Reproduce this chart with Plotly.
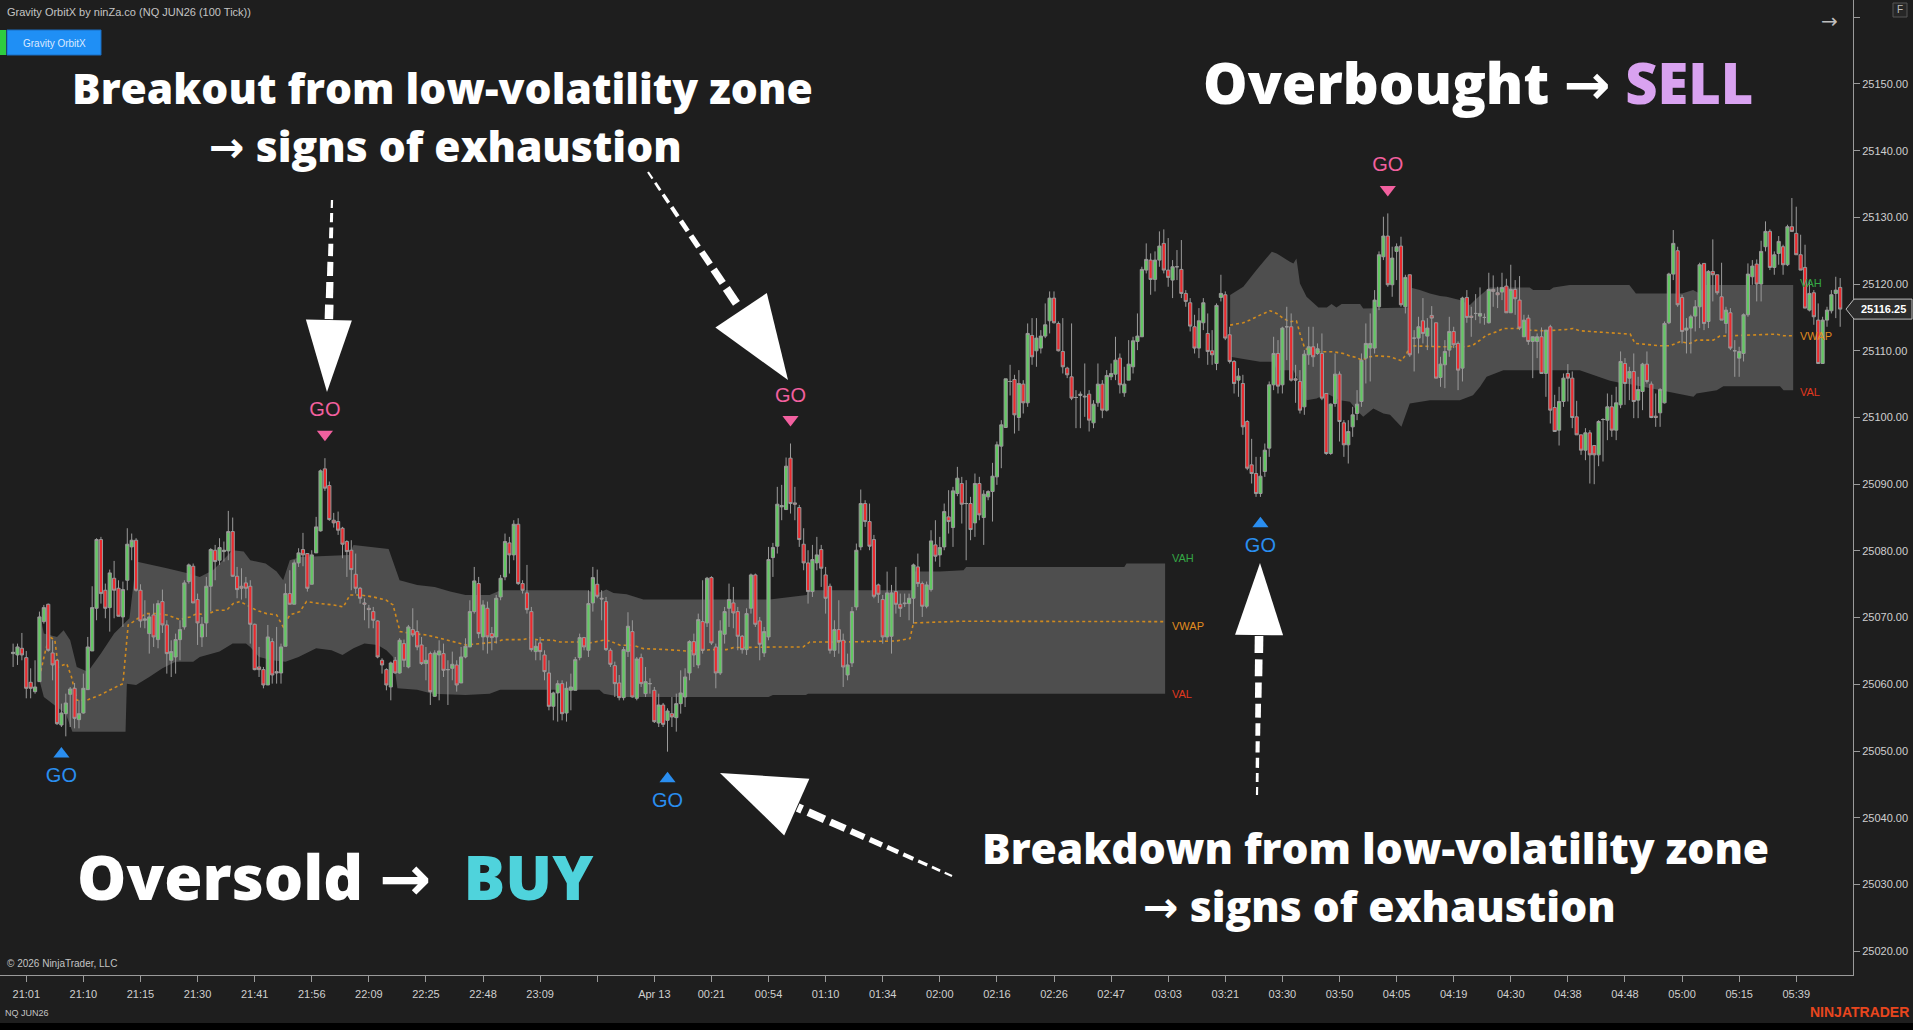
import math
import plotly.graph_objects as go

W, H = 1913, 1030

# ---------------- candle data (bar index = position) ----------------
opens = [
 25064.6, 25064.4, 25065.4, 25064.0, 25060.3, 25058.9, 25060.4, 25069.4, 25072.0, 25064.7,
 25063.6, 25053.9, 25055.6, 25058.5, 25059.4, 25054.7, 25055.7, 25059.2, 25065.0, 25071.4,
 25081.7, 25074.1, 25071.5, 25075.9, 25074.4, 25070.1, 25075.6, 25080.6, 25081.6, 25074.1,
 25069.6, 25067.6, 25070.4, 25066.7, 25072.4, 25068.9, 25063.6, 25064.1, 25066.7, 25068.6,
 25075.4, 25077.7, 25072.7, 25067.1, 25069.2, 25074.7, 25080.1, 25078.6, 25079.9, 25080.0,
 25082.9, 25076.2, 25074.7, 25075.2, 25074.7, 25069.0, 25062.6, 25062.2, 25059.9, 25066.4,
 25061.9, 25061.7, 25065.7, 25073.6, 25072.0, 25078.2, 25080.2, 25079.6, 25075.0, 25079.7,
 25083.0, 25092.3, 25089.8, 25084.6, 25084.4, 25083.4, 25081.4, 25080.1, 25076.5, 25074.4,
 25072.2, 25071.4, 25070.9, 25069.5, 25063.6, 25062.2, 25059.6, 25063.6, 25061.7, 25066.1,
 25062.6, 25068.2, 25067.9, 25065.9, 25063.1, 25064.6, 25058.2, 25064.4, 25064.6, 25062.2,
 25062.4, 25062.9, 25060.2, 25064.1, 25065.6, 25070.9, 25075.1,
 25067.1, 25071.4, 25067.6, 25067.1, 25073.1, 25076.1, 25081.2, 25079.4, 25084.0, 25075.1,
 25073.7, 25070.9, 25064.9, 25066.2, 25064.4, 25061.7, 25056.7, 25058.7, 25060.1, 25055.7,
 25059.1, 25059.1, 25064.0, 25067.0, 25065.1, 25072.2, 25075.0, 25072.9, 25072.4, 25065.1,
 25062.8, 25060.2, 25058.0, 25064.9, 25067.9, 25057.9, 25064.0, 25058.6, 25060.1, 25059.1,
 25054.2, 25056.9, 25054.6, 25055.6, 25055.0, 25057.1, 25058.1, 25061.7, 25066.4, 25062.9,
 25069.4, 25069.2, 25076.0, 25065.6, 25061.7, 25067.5, 25071.4, 25072.2, 25070.9, 25067.2,
 25065.2, 25071.4, 25076.4, 25069.5, 25064.7, 25067.1, 25079.0, 25080.7, 25086.6, 25086.2,
 25093.9, 25087.2, 25086.5, 25081.0, 25078.2, 25073.9, 25078.2, 25080.2, 25076.4, 25074.7,
 25065.1, 25068.2, 25066.6, 25061.4, 25063.2, 25071.6, 25080.6, 25087.1, 25084.4, 25081.7,
 25074.9, 25072.7, 25067.1, 25067.2, 25073.9, 25072.0, 25072.2, 25072.1, 25072.9, 25077.6,
 25075.1, 25071.7, 25074.2, 25080.9, 25079.4, 25080.6, 25085.1, 25083.5, 25088.6,
 25090.1, 25087.1, 25087.1, 25084.2, 25090.1, 25085.0, 25088.1, 25088.9, 25091.1, 25095.7,
 25098.5, 25105.4, 25105.7, 25100.0, 25105.0, 25102.2, 25112.3, 25110.0, 25110.4, 25112.2,
 25114.5, 25117.9, 25114.1, 25109.9, 25107.4, 25106.1, 25103.0, 25103.3, 25103.2, 25103.5,
 25099.2, 25102.2, 25105.0, 25101.1, 25106.1, 25106.5, 25108.9, 25103.7, 25105.6, 25107.6,
 25111.4, 25112.1, 25122.1, 25123.6, 25120.7, 25123.6, 25126.1, 25122.1, 25120.6, 25122.6,
 25122.2, 25118.6, 25117.2, 25113.6, 25110.4, 25114.2, 25112.6, 25110.0, 25108.1, 25118.0,
 25118.4, 25112.4, 25108.4, 25105.6, 25105.1, 25099.4, 25092.9, 25091.6, 25088.6, 25091.9,
 25095.4, 25104.9, 25109.6, 25104.9, 25113.6, 25113.6, 25105.8, 25105.4, 25101.6, 25109.4,
 25110.6, 25109.6, 25109.6, 25103.6, 25094.6, 25102.1, 25106.5, 25099.2, 25095.9, 25098.6,
 25100.6, 25102.4, 25108.9, 25110.4, 25110.4, 25116.6, 25124.1, 25127.2, 25119.9, 25124.9,
 25125.7, 25116.6, 25121.4, 25111.9, 25111.9, 25114.5, 25112.2, 25115.3, 25114.2, 25106.0,
 25107.9, 25110.1, 25112.9, 25111.1, 25107.4, 25118.0, 25115.2, 25115.6, 25115.2, 25115.0,
 25114.2, 25119.2, 25118.7, 25118.8, 25119.7, 25115.7, 25119.2, 25117.6, 25112.1, 25114.9,
 25111.4, 25111.4, 25112.1, 25106.6, 25113.6, 25101.5, 25098.1, 25102.4, 25106.6, 25105.9,
 25100.1, 25097.4, 25095.1, 25097.7, 25095.8, 25094.4, 25099.7, 25099.6, 25101.6, 25098.1,
 25101.9, 25108.1, 25105.9, 25106.9, 25102.6, 25103.9, 25108.0, 25105.0, 25100.2, 25100.7,
 25102.2, 25114.2, 25121.5, 25125.0, 25118.0, 25113.1, 25113.4, 25115.2, 25116.6, 25123.1,
 25114.4, 25121.9, 25121.4, 25118.1, 25114.1, 25115.7, 25110.0, 25108.9, 25109.6, 25115.4,
 25121.1, 25123.0, 25120.0, 25125.6, 25127.9, 25122.5, 25124.6, 25125.6, 25122.9, 25128.6,
 25127.6, 25124.4, 25122.5, 25116.1, 25118.7, 25114.6, 25108.1, 25114.6, 25116.0, 25118.6, 25119.5,
]
highs = [
 25066.1, 25066.1, 25067.7, 25065.0, 25062.4, 25063.6, 25070.9, 25071.9, 25072.1, 25066.6,
 25063.6, 25057.1, 25058.6, 25059.6, 25060.2, 25057.6, 25061.6, 25067.1, 25074.7, 25081.9,
 25082.1, 25075.1, 25077.2, 25078.5, 25075.6, 25075.4, 25083.4, 25082.6, 25081.9, 25075.0,
 25072.6, 25070.6, 25072.1, 25072.6, 25074.2, 25069.6, 25066.6, 25067.6, 25069.6, 25075.6,
 25078.1, 25078.1, 25073.6, 25070.1, 25076.1, 25080.4, 25080.9, 25081.9, 25081.4, 25086.0,
 25085.0, 25077.6, 25077.4, 25076.1, 25075.6, 25069.1, 25065.6, 25062.6, 25068.9, 25066.9,
 25068.6, 25066.1, 25075.1, 25077.1, 25078.6, 25080.4, 25082.7, 25079.6, 25080.1, 25085.1,
 25092.2, 25093.9, 25090.4, 25085.7, 25085.9, 25083.6, 25081.6, 25081.6, 25079.6, 25074.6,
 25072.9, 25071.9, 25071.6, 25069.6, 25063.9, 25062.4, 25063.4, 25064.1, 25066.9, 25066.7,
 25068.9, 25071.4, 25069.6, 25067.1, 25065.6, 25064.9, 25065.1, 25066.6, 25066.1, 25063.6,
 25064.9, 25063.6, 25065.6, 25066.9, 25072.6, 25077.6, 25076.1,
 25072.6, 25072.4, 25068.6, 25073.4, 25076.4, 25082.6, 25082.1, 25084.6, 25084.9, 25075.6,
 25077.9, 25071.6, 25066.6, 25067.1, 25065.1, 25063.6, 25058.9, 25060.6, 25060.6, 25060.4,
 25061.6, 25064.1, 25067.6, 25067.1, 25074.1, 25077.6, 25077.2, 25074.1, 25073.1, 25065.4,
 25063.4, 25061.4, 25065.6, 25070.8, 25069.6, 25064.1, 25064.6, 25062.6, 25060.9, 25059.6,
 25058.6, 25057.2, 25056.4, 25058.1, 25058.6, 25062.1, 25062.4, 25066.6, 25067.6, 25070.6,
 25075.6, 25076.1, 25076.2, 25066.1, 25069.6, 25071.6, 25075.1, 25074.6, 25071.6, 25067.4,
 25071.4, 25076.6, 25076.6, 25070.1, 25068.6, 25080.6, 25081.2, 25089.6, 25089.9, 25094.0,
 25096.1, 25089.6, 25086.9, 25083.4, 25080.1, 25080.9, 25082.1, 25080.9, 25077.6, 25075.1,
 25069.6, 25072.6, 25067.6, 25064.6, 25071.6, 25081.1, 25089.2, 25087.6, 25087.1, 25082.4,
 25075.1, 25073.4, 25076.9, 25074.9, 25077.6, 25073.6, 25073.6, 25073.6, 25078.1, 25079.6,
 25075.4, 25075.4, 25083.1, 25084.6, 25082.1, 25087.1, 25089.1, 25089.6, 25092.6,
 25091.1, 25090.6, 25088.1, 25091.6, 25091.1, 25089.1, 25089.1, 25093.2, 25096.4, 25099.6,
 25105.8, 25107.9, 25106.4, 25107.1, 25105.6, 25114.1, 25114.9, 25114.9, 25113.1, 25117.1,
 25118.9, 25118.9, 25114.4, 25114.9, 25107.6, 25114.1, 25104.1, 25103.9, 25108.1, 25104.1,
 25102.6, 25108.1, 25105.6, 25107.1, 25108.1, 25112.1, 25109.6, 25107.6, 25111.6, 25112.1,
 25115.6, 25122.6, 25126.1, 25124.6, 25124.9, 25127.9, 25128.2, 25126.9, 25123.6, 25125.1,
 25126.6, 25119.1, 25117.9, 25115.4, 25116.4, 25117.9, 25115.6, 25113.1, 25117.1, 25121.4,
 25118.9, 25113.6, 25108.6, 25107.4, 25106.4, 25099.6, 25096.8, 25094.1, 25094.1, 25096.1,
 25105.4, 25112.1, 25111.6, 25113.6, 25116.6, 25115.6, 25107.9, 25107.1, 25110.1, 25113.6,
 25113.6, 25111.1, 25112.6, 25103.6, 25102.1, 25109.6, 25106.9, 25099.6, 25099.6, 25101.6,
 25104.1, 25109.6, 25114.1, 25115.6, 25119.1, 25124.9, 25130.1, 25130.6, 25125.6, 25126.1,
 25127.1, 25121.4, 25121.4, 25113.1, 25115.1, 25117.9, 25114.9, 25116.7, 25114.2, 25109.1,
 25111.6, 25115.1, 25113.6, 25111.4, 25118.1, 25119.1, 25116.6, 25118.5, 25119.5, 25115.6,
 25121.7, 25121.3, 25119.6, 25121.7, 25120.8, 25122.9, 25120.6, 25121.2, 25115.4, 25115.4,
 25112.1, 25112.6, 25113.5, 25113.1, 25113.9, 25103.4, 25104.6, 25106.6, 25108.0, 25106.9,
 25102.5, 25097.4, 25098.4, 25098.1, 25095.8, 25099.6, 25099.9, 25103.6, 25103.4, 25104.6,
 25109.9, 25108.9, 25107.6, 25109.6, 25106.1, 25108.2, 25109.9, 25105.4, 25103.6, 25104.4,
 25114.4, 25121.7, 25128.1, 25125.6, 25118.4, 25114.9, 25115.4, 25117.6, 25123.2, 25123.1,
 25122.1, 25126.7, 25121.4, 25123.2, 25116.6, 25116.4, 25111.6, 25110.6, 25115.6, 25123.1,
 25123.6, 25123.7, 25126.5, 25129.4, 25128.2, 25124.9, 25127.2, 25125.9, 25128.9, 25132.9,
 25131.6, 25127.4, 25125.9, 25120.6, 25119.1, 25117.1, 25115.1, 25116.6, 25119.1, 25121.1, 25120.9,
]
lows = [
 25062.6, 25062.9, 25063.6, 25057.9, 25057.9, 25058.6, 25060.4, 25069.1, 25064.9, 25060.6,
 25053.9, 25053.6, 25052.2, 25053.6, 25053.4, 25053.4, 25055.6, 25059.2, 25065.0, 25069.6,
 25072.1, 25069.9, 25067.9, 25069.9, 25070.2, 25068.6, 25074.1, 25078.6, 25073.9, 25068.5,
 25068.4, 25064.6, 25065.6, 25065.4, 25067.7, 25061.6, 25061.1, 25061.6, 25063.6, 25068.2,
 25075.1, 25072.2, 25065.9, 25065.6, 25067.1, 25070.9, 25075.6, 25077.9, 25078.4, 25078.6,
 25076.1, 25072.9, 25072.7, 25072.9, 25066.1, 25062.1, 25061.1, 25059.4, 25059.9, 25060.1,
 25060.1, 25060.1, 25065.7, 25072.0, 25072.0, 25077.6, 25077.7, 25073.9, 25075.0, 25079.7,
 25082.9, 25089.0, 25084.5, 25083.5, 25082.4, 25078.9, 25076.1, 25074.1, 25073.6, 25072.1,
 25069.6, 25068.4, 25068.4, 25063.9, 25061.6, 25059.1, 25057.6, 25061.6, 25061.6, 25062.6,
 25062.4, 25067.1, 25065.1, 25062.9, 25060.6, 25056.9, 25058.1, 25057.6, 25061.1, 25056.9,
 25060.6, 25058.9, 25060.2, 25063.9, 25065.6, 25070.6, 25066.9,
 25065.1, 25064.6, 25065.1, 25066.1, 25072.6, 25075.6, 25076.6, 25078.6, 25074.9, 25073.6,
 25070.6, 25064.9, 25063.6, 25063.6, 25060.6, 25056.1, 25054.6, 25054.4, 25054.6, 25054.4,
 25056.1, 25059.1, 25063.6, 25065.1, 25064.1, 25070.9, 25072.9, 25069.6, 25065.0, 25062.6,
 25058.1, 25057.6, 25057.6, 25064.1, 25058.0, 25057.6, 25059.6, 25058.1, 25058.6, 25054.2,
 25053.6, 25053.6, 25049.9, 25053.6, 25052.9, 25055.6, 25056.6, 25060.6, 25062.6, 25062.4,
 25064.6, 25068.6, 25065.9, 25059.4, 25061.4, 25066.1, 25068.6, 25068.4, 25065.1, 25064.6,
 25064.4, 25070.6, 25068.6, 25063.6, 25064.1, 25066.6, 25076.1, 25079.6, 25084.6, 25086.2,
 25085.6, 25084.6, 25080.6, 25077.1, 25072.1, 25073.1, 25077.1, 25074.6, 25070.6, 25064.6,
 25064.1, 25064.6, 25059.6, 25060.6, 25062.6, 25071.1, 25080.1, 25083.6, 25080.1, 25072.9,
 25072.2, 25066.1, 25066.6, 25064.6, 25070.6, 25070.1, 25071.6, 25069.6, 25069.1, 25074.6,
 25070.1, 25071.4, 25073.9, 25078.4, 25077.6, 25080.1, 25082.6, 25080.6, 25088.2,
 25084.1, 25078.6, 25081.6, 25082.1, 25084.6, 25080.9, 25087.6, 25084.4, 25089.9, 25092.4,
 25098.5, 25103.3, 25097.6, 25098.0, 25100.6, 25101.6, 25107.9, 25107.6, 25109.6, 25111.9,
 25112.6, 25114.1, 25109.9, 25106.6, 25105.9, 25102.6, 25098.4, 25098.4, 25100.1, 25097.9,
 25098.4, 25101.6, 25099.9, 25100.9, 25105.6, 25105.6, 25103.6, 25103.1, 25105.6, 25106.6,
 25110.1, 25112.1, 25121.6, 25118.4, 25118.9, 25122.6, 25121.6, 25119.6, 25117.9, 25120.6,
 25117.9, 25116.6, 25112.9, 25109.6, 25108.9, 25113.1, 25107.9, 25107.9, 25107.1, 25117.4,
 25111.6, 25108.1, 25103.6, 25103.1, 25097.4, 25092.1, 25090.1, 25088.1, 25088.1, 25091.1,
 25094.1, 25104.1, 25103.6, 25103.6, 25108.6, 25105.4, 25102.2, 25100.6, 25100.4, 25107.9,
 25107.6, 25109.4, 25102.6, 25094.4, 25094.4, 25101.6, 25096.4, 25094.1, 25093.1, 25097.1,
 25099.6, 25101.6, 25105.1, 25105.4, 25109.6, 25116.1, 25123.6, 25119.6, 25118.1, 25120.6,
 25116.6, 25115.6, 25109.1, 25106.9, 25109.6, 25111.1, 25110.1, 25110.6, 25105.9, 25104.6,
 25104.4, 25109.1, 25110.4, 25104.1, 25105.4, 25114.2, 25112.1, 25114.6, 25114.1, 25113.9,
 25114.1, 25116.6, 25116.4, 25117.6, 25115.7, 25115.7, 25115.4, 25113.1, 25112.1, 25110.9,
 25105.9, 25108.9, 25106.6, 25103.1, 25099.1, 25097.9, 25095.8, 25101.6, 25102.4, 25098.4,
 25097.4, 25094.4, 25093.6, 25090.1, 25090.0, 25092.7, 25093.4, 25096.6, 25097.1, 25096.6,
 25101.4, 25101.9, 25102.6, 25099.9, 25099.9, 25101.1, 25105.1, 25099.9, 25098.6, 25098.6,
 25102.1, 25114.0, 25120.6, 25116.6, 25111.1, 25109.6, 25109.6, 25112.9, 25113.4, 25113.1,
 25113.4, 25117.4, 25118.4, 25114.6, 25112.6, 25110.1, 25106.1, 25106.1, 25108.4, 25115.1,
 25119.9, 25117.4, 25117.4, 25124.9, 25122.1, 25121.4, 25122.9, 25121.4, 25122.7, 25127.9,
 25124.4, 25122.1, 25116.4, 25115.9, 25113.9, 25108.1, 25108.1, 25113.6, 25115.6, 25114.9, 25113.6,
]
closes = [
 25064.8, 25065.6, 25064.4, 25059.4, 25059.4, 25059.6, 25070.1, 25071.5, 25065.1, 25062.9,
 25054.1, 25055.7, 25057.2, 25059.3, 25054.9, 25055.6, 25059.4, 25065.6, 25071.5, 25081.7,
 25073.6, 25071.4, 25076.7, 25074.1, 25070.2, 25074.2, 25081.0, 25081.6, 25074.1, 25069.5,
 25069.8, 25070.1, 25067.1, 25072.1, 25068.9, 25064.6, 25064.9, 25066.7, 25068.2, 25075.2,
 25077.9, 25072.2, 25069.2, 25069.0, 25074.7, 25080.2, 25078.4, 25080.5, 25080.1, 25082.9,
 25076.2, 25074.2, 25074.4, 25074.4, 25069.0, 25062.2, 25062.2, 25059.9, 25067.1, 25061.4,
 25061.7, 25065.6, 25073.6, 25072.0, 25078.2, 25079.7, 25079.4, 25074.4, 25079.4, 25083.6,
 25092.0, 25089.4, 25084.7, 25084.2, 25083.1, 25081.0, 25079.9, 25077.2, 25074.4, 25072.9,
 25072.0, 25071.2, 25069.6, 25064.1, 25062.9, 25059.9, 25063.2, 25061.7, 25066.6, 25063.6,
 25068.6, 25067.4, 25065.6, 25063.1, 25063.6, 25058.9, 25064.7, 25065.0, 25062.1, 25062.2,
 25063.0, 25059.9, 25064.1, 25065.7, 25070.9, 25075.5, 25067.6,
 25071.9, 25067.1, 25067.0, 25072.9, 25075.9, 25081.4, 25079.4, 25084.0, 25075.1, 25074.1,
 25071.2, 25065.2, 25065.7, 25064.9, 25061.9, 25056.7, 25058.7, 25060.1, 25055.6, 25059.4,
 25059.6, 25063.7, 25067.0, 25065.6, 25072.1, 25076.0, 25073.2, 25072.8, 25065.2, 25063.0,
 25060.1, 25058.0, 25065.2, 25068.7, 25058.1, 25063.8, 25060.1, 25060.4, 25060.1, 25054.4,
 25056.9, 25054.0, 25056.0, 25055.1, 25057.1, 25058.7, 25061.1, 25066.4, 25064.4, 25069.7,
 25065.1, 25075.9, 25066.2, 25061.7, 25068.0, 25070.9, 25072.7, 25070.7, 25067.2, 25065.2,
 25070.6, 25076.4, 25069.0, 25066.0, 25067.9, 25078.7, 25080.5, 25087.0, 25086.8, 25092.7,
 25087.1, 25087.0, 25081.7, 25078.2, 25073.9, 25078.7, 25079.4, 25077.4, 25072.9, 25065.1,
 25068.2, 25066.4, 25062.6, 25062.9, 25070.9, 25080.1, 25087.1, 25084.4, 25080.7, 25073.2,
 25073.5, 25067.1, 25073.7, 25073.7, 25072.0, 25071.4, 25072.1, 25072.9, 25077.9, 25075.1,
 25071.7, 25074.9, 25081.5, 25079.2, 25080.5, 25085.9, 25084.4, 25089.0, 25090.9,
 25087.0, 25087.1, 25083.2, 25090.1, 25085.4, 25088.5, 25088.9, 25091.2, 25095.9, 25098.9,
 25105.8, 25105.4, 25100.4, 25105.1, 25102.2, 25112.6, 25109.1, 25111.9, 25112.2, 25113.9,
 25117.9, 25114.2, 25110.0, 25107.6, 25106.4, 25102.9, 25103.0, 25103.5, 25103.1, 25099.6,
 25102.0, 25105.0, 25101.1, 25106.3, 25106.6, 25108.6, 25104.9, 25105.0, 25108.0, 25111.5,
 25112.2, 25122.2, 25123.7, 25120.7, 25123.6, 25125.7, 25122.1, 25121.0, 25122.6, 25122.6,
 25118.6, 25117.4, 25113.7, 25110.4, 25114.5, 25117.2, 25109.9, 25109.4, 25116.8, 25118.6,
 25111.9, 25108.4, 25105.1, 25106.2, 25098.6, 25092.4, 25091.6, 25088.6, 25091.2, 25095.1,
 25104.9, 25109.6, 25104.7, 25113.4, 25113.6, 25105.6, 25105.6, 25101.1, 25109.5, 25110.6,
 25109.1, 25110.3, 25102.9, 25094.6, 25102.0, 25106.5, 25099.4, 25095.9, 25097.9, 25100.4,
 25102.0, 25108.6, 25111.1, 25111.1, 25117.6, 25124.4, 25127.2, 25119.9, 25123.9, 25125.6,
 25116.9, 25121.0, 25109.4, 25111.9, 25113.6, 25112.6, 25113.4, 25114.9, 25105.9, 25108.0,
 25109.9, 25112.9, 25110.9, 25107.1, 25117.9, 25115.0, 25115.0, 25115.6, 25115.6, 25115.0,
 25119.2, 25118.9, 25118.4, 25119.5, 25115.7, 25119.2, 25117.8, 25113.4, 25114.6, 25111.4,
 25112.1, 25112.1, 25106.6, 25113.1, 25101.1, 25097.9, 25102.4, 25105.9, 25105.9, 25100.0,
 25097.4, 25095.1, 25097.7, 25094.4, 25094.4, 25099.4, 25099.7, 25101.6, 25098.1, 25102.2,
 25108.4, 25105.1, 25106.9, 25102.4, 25104.2, 25108.0, 25105.4, 25100.0, 25100.0, 25104.2,
 25114.1, 25121.5, 25126.1, 25116.9, 25112.9, 25113.4, 25115.1, 25116.6, 25122.9, 25114.1,
 25121.9, 25121.4, 25118.7, 25114.6, 25116.1, 25110.4, 25110.0, 25109.9, 25115.4, 25121.5,
 25122.7, 25120.0, 25124.9, 25127.9, 25122.5, 25124.4, 25126.4, 25122.9, 25128.6, 25127.9,
 25124.4, 25122.1, 25116.4, 25118.6, 25115.1, 25108.1, 25114.6, 25116.1, 25118.4, 25119.1, 25116.25,
]
assert len(opens) == len(highs) == len(lows) == len(closes) == 417, (len(opens), len(highs), len(lows), len(closes))
bar_index = list(range(len(closes)))

# ---------------- value-area bands (bar position, price) ----------------
vah1_x = [6, 7, 10, 11.5, 13, 14.5, 17, 20, 23, 26.5, 28, 35, 40, 42.5, 45.5, 50, 52.5, 54, 57.5, 60,
          61.5, 63, 65.5, 76.5, 77.5, 85.5, 88, 92, 96, 99.5, 103, 108.5, 111, 130.6, 132.9, 135.1, 136.7, 139.7, 143.5, 172.3,
          180.7, 181, 204.9, 205.3, 211, 216.4, 217, 253, 253.5, 262.3]
vah1_y = [25070.9, 25067.6, 25067.1, 25068.1, 25066.6, 25062.6, 25061.9, 25064.6, 25067.6, 25069.9,
          25078.4, 25077.4, 25076.6, 25076.1, 25077.1, 25080.1, 25079.9, 25078.6, 25078.1, 25076.9,
          25075.6, 25078.6, 25079.1, 25079.4, 25080.9, 25080.3, 25075.6, 25074.9, 25074.6, 25073.9,
          25073.4, 25073.4, 25074.1, 25074.1, 25073.6, 25074.2, 25073.7, 25073.5, 25072.7, 25072.7,
          25073.4, 25074.1, 25074.1, 25076.9, 25076.9, 25077.1, 25077.6, 25077.6, 25078.1, 25078.1]
val1_x = [6, 7, 9, 12, 13.5, 25.6, 25.9, 28, 31, 34, 37, 41, 42.5, 47, 50, 53, 54, 56, 59, 62,
          65, 69, 72.5, 75, 77.5, 80, 83, 85, 86.5, 87.5, 92, 95.5, 103, 108.5, 110.9, 133.5, 134.5, 137, 139, 172,
          173, 180.5, 181, 262.3]
val1_y = [25060.6, 25058.1, 25057.1, 25055.6, 25052.9, 25052.9, 25060.1, 25059.9, 25061.1, 25062.4,
          25063.4, 25063.4, 25064.1, 25064.9, 25066.1, 25066.1, 25065.6, 25064.1, 25063.6, 25063.4,
          25064.1, 25065.4, 25065.1, 25064.4, 25065.4, 25066.1, 25065.9, 25065.1, 25064.1, 25059.4,
          25059.2, 25058.6, 25058.4, 25058.6, 25059.2, 25059.2, 25058.6, 25058.3, 25058.1, 25058.1,
          25058.4, 25058.4, 25058.6, 25058.6]
vwap1_x = [6, 7.5, 8.4, 9.5, 10.3, 12.2, 13.3, 14.5, 16.7, 19.8, 22.8, 25, 26.2, 27.4, 28.9, 30.4, 32.7, 35, 38, 40.3,
           41.8, 44, 46.3, 48.6, 50.1, 51.6, 53.2, 55.4, 57.7, 60, 61.5, 63, 65.3, 66.8, 69.9, 72.9, 75.2, 76.7, 79, 82,
           85, 86.5, 88.1, 91.1, 94.1, 97.2, 100.2, 103.2, 106.3, 110, 111.6, 116.2, 117.7, 119.2, 123, 124.5, 129, 131.3, 134.4, 135.9,
           138.2, 141.2, 143.5, 148.8, 153.3, 159.4, 162.4, 164, 174.6, 179.9, 181.4, 189.8, 201.1, 204.2, 205, 215.6, 262.3]
vwap1_y = [25061.1, 25065.4, 25067.1, 25066.6, 25062.6, 25063.1, 25061.1, 25057.6, 25057.6, 25058.4,
           25059.4, 25060.1, 25068.9, 25069.4, 25070.1, 25070.6, 25070.6, 25070.4, 25069.7, 25070.1,
           25070.6, 25070.4, 25071.1, 25071.1, 25072.1, 25072.4, 25071.9, 25071.1, 25070.6, 25070.4,
           25068.6, 25070.4, 25070.9, 25072.4, 25072.1, 25071.9, 25071.6, 25073.4, 25073.4, 25073.1,
           25072.6, 25071.9, 25067.9, 25067.6, 25067.4, 25066.9, 25066.4, 25065.9, 25066.1, 25066.35,
           25066.7, 25066.7, 25067.0, 25066.7, 25066.6, 25066.35, 25066.35, 25066.2, 25066.6, 25066.5,
           25065.85, 25065.85, 25065.35, 25065.2, 25065.0, 25065.2, 25065.2, 25065.5, 25065.6, 25065.6,
           25066.35, 25066.35, 25066.5, 25066.85, 25069.2, 25069.45, 25069.4]

vah2_x = [277.1, 280.1, 283.1, 285.0, 286.6, 287.7, 290.7, 291.5, 292.2, 293, 294.5, 297.2, 299.1, 300.2, 301.3, 302.5,
          306.7, 307.4, 318, 318.1, 320.3, 322.6, 324.9, 326.4, 329.4, 331.7, 333.2, 335.5, 336.2, 345.3, 346.1, 349.9,
          350.7, 354.4, 368, 369.5, 380, 382.5, 384, 385, 405.3]
vah2_y = [25118.35, 25119.6, 25122.1, 25123.6, 25124.85, 25124.6, 25123.35, 25123.1, 25123.85, 25120.1,
          25118.1, 25116.5, 25116.5, 25117.0, 25116.5, 25117.0, 25117.0, 25116.35, 25116.5, 25119.5,
          25119.1, 25118.6, 25118.2, 25118.1, 25117.6, 25116.85, 25117.85, 25119.1, 25119.5, 25119.5,
          25119.1, 25119.1, 25119.5, 25119.85, 25119.85, 25118.6, 25118.6, 25119.1, 25118.6, 25119.85, 25119.85]
val2_x = [277.1, 283.9, 287, 287.7, 291.5, 293.4, 294.5, 296.8, 299.1, 302.1, 304.4, 305.9, 307.4, 309.7, 312, 313.5,
          316.1, 318, 322.6, 329.4, 332.4, 334, 335.5, 339.3, 356.7, 363.6, 365.8, 368.2, 382.6, 383.3, 387.9, 389.4,
          402.3, 403.1, 405.3]
val2_y = [25109.1, 25108.35, 25108.35, 25107.1, 25107.1, 25104.6, 25102.6, 25102.85, 25103.6, 25102.6,
          25102.35, 25101.1, 25100.1, 25101.35, 25100.6, 25100.4, 25098.6, 25102.1, 25102.6, 25102.6,
          25103.35, 25104.6, 25106.1, 25107.1, 25107.1, 25105.5, 25105.2, 25105.0, 25103.1, 25103.6,
          25104.1, 25104.7, 25104.7, 25104.1, 25104.1]
vwap2_x = [277.1, 280.1, 281.6, 283.9, 286.2, 287.7, 289.2, 290.7, 292.2, 293, 294.1, 295.3, 297.6, 300.6, 302.9, 304.4,
           305.9, 307.0, 308.9, 310.5, 313.5, 316.1, 317.3, 318, 325.6, 330.9, 332.4, 334, 335.5, 337.8, 339.3, 343.1,
           344.6, 349.1, 353.7, 355.2, 356.7, 363.6, 368.2, 369.3, 371.2, 375, 377.3, 379.5, 381.8, 383.3, 387.1, 388.6,
           401.5, 403.1, 405.3]
vwap2_y = [25113.85, 25114.2, 25114.6, 25115.35, 25116.0, 25115.6, 25114.85, 25114.35, 25114.5, 25112.6,
           25110.35, 25110.1, 25109.85, 25109.85, 25109.6, 25109.2, 25109.0, 25108.6, 25109.1, 25109.25,
           25109.1, 25108.5, 25109.6, 25110.75, 25110.6, 25110.6, 25110.85, 25111.6, 25112.35, 25112.85,
           25113.35, 25113.35, 25113.1, 25113.0, 25113.2, 25113.35, 25113.0, 25112.7, 25112.5, 25111.1,
           25111.0, 25110.75, 25110.75, 25111.35, 25111.1, 25111.6, 25111.6, 25112.2, 25112.5, 25112.25, 25112.25]

band_label_x = [263.4, 406.4]
band_label_vah = [25079.0, 25120.2]
band_label_vwap = [25068.7, 25112.2]
band_label_val = [25058.5, 25103.8]

# signals
sell_bars = [71, 177, 313]
buy_bars = [11, 149, 284]

# axis ticks
tick_bars = [3, 16, 29, 42, 55, 68, 81, 94, 107, 120, 133, 146, 159, 172, 185, 198,
             211, 224, 237, 250, 263, 276, 289, 302, 315, 328, 341, 354, 367, 380, 393, 406]
tick_labels = ['21:01', '21:10', '21:15', '21:30', '21:41', '21:56', '22:09', '22:25', '22:48', '23:09', '',
               'Apr 13', '00:21', '00:54', '01:10', '01:34', '02:00', '02:16', '02:26', '02:47', '03:03', '03:21',
               '03:30', '03:50', '04:05', '04:19', '04:30', '04:38', '04:48', '05:00', '05:15', '05:39']
price_ticks = [25020, 25030, 25040, 25050, 25060, 25070, 25080, 25090, 25100, 25110, 25120, 25130, 25140, 25150, 25160]
price_labels = ['25020.00', '25030.00', '25040.00', '25050.00', '25060.00', '25070.00', '25080.00', '25090.00',
                '25100.00', '25110.00', '25120.00', '25130.00', '25140.00', '25150.00', '']
last_price = closes[-1]

# ---------------- layout geometry ----------------
PLOT_R = 1853
PLOT_B = 975
X_RANGE = [-2.983, 418.92]
Y_RANGE = [25016.42, 25162.59]
PT_PER_PX = (Y_RANGE[1] - Y_RANGE[0]) / PLOT_B

def px(x):
    return x / W

def py(y):
    return 1 - y / H

BG = '#1e1e1e'
fig = go.Figure()

# value-area polygons and VWAP (drawn below the candles)
shapes = []
def band_path(tx, ty, bx, by):
    pts = list(zip(tx, ty)) + list(zip(bx, by))[::-1]
    return 'M ' + ' L '.join(f'{a},{b}' for a, b in pts) + ' Z'

def line_path(xs, ys):
    return 'M ' + ' L '.join(f'{a},{b}' for a, b in zip(xs, ys))

for tx, ty, bx, by in [(vah1_x, vah1_y, val1_x, val1_y), (vah2_x, vah2_y, val2_x, val2_y)]:
    shapes.append(dict(type='path', xref='x', yref='y', path=band_path(tx, ty, bx, by),
                       fillcolor='#4e4e4e', line=dict(width=0), layer='below'))
for xs, ys in [(vwap1_x, vwap1_y), (vwap2_x, vwap2_y)]:
    shapes.append(dict(type='path', xref='x', yref='y', path=line_path(xs, ys),
                       line=dict(color='#d08a1e', width=1.6, dash='dot'), layer='below'))

fig.add_trace(go.Candlestick(
    x=bar_index, open=opens, high=highs, low=lows, close=closes,
    increasing=dict(fillcolor='#62c862', line=dict(color='#9a9a9a', width=1)),
    decreasing=dict(fillcolor='#ec2a2e', line=dict(color='#9a9a9a', width=1)),
    whiskerwidth=0, hoverinfo='skip', showlegend=False))

# GO signals
sell_hi = [highs[b] for b in sell_bars]
buy_lo = [lows[b] for b in buy_bars]
PINK = '#f2609f'
BLUE = '#2a8ef0'
fig.add_trace(go.Scatter(x=sell_bars, y=[h + 24 * PT_PER_PX for h in sell_hi], mode='markers',
                         marker=dict(symbol='triangle-down', size=14, color=PINK), hoverinfo='skip', showlegend=False))
fig.add_trace(go.Scatter(x=sell_bars, y=[h + 47 * PT_PER_PX for h in sell_hi], mode='text', text=['GO'] * 3,
                         textfont=dict(family='Liberation Sans, Arial', size=20, color=PINK), hoverinfo='skip', showlegend=False))
fig.add_trace(go.Scatter(x=buy_bars, y=[l - 27 * PT_PER_PX for l in buy_lo], mode='markers',
                         marker=dict(symbol='triangle-up', size=14, color=BLUE), hoverinfo='skip', showlegend=False))
fig.add_trace(go.Scatter(x=buy_bars, y=[l - 50 * PT_PER_PX for l in buy_lo], mode='text', text=['GO'] * 3,
                         textfont=dict(family='Liberation Sans, Arial', size=20, color=BLUE), hoverinfo='skip', showlegend=False))

# ---------------- dashed white arrows ----------------
def arrow(tail, tip, head_len, head_w, w0=2.0, w1=9.0):
    dx, dy = tip[0] - tail[0], tip[1] - tail[1]
    L = math.hypot(dx, dy)
    ux, uy = dx / L, dy / L
    nx, ny = -uy, ux
    shaft = L - head_len
    out = []
    t = 0.0
    while t < shaft - 3:
        f = t / shaft
        dash = 8 + 12 * f
        gap = 5 + 2 * f
        e = min(t + dash, shaft - 1)
        w = w0 + (w1 - w0) * ((t + e) / 2 / shaft)
        out.append(dict(type='line', xref='paper', yref='paper',
                        x0=px(tail[0] + ux * t), y0=py(tail[1] + uy * t),
                        x1=px(tail[0] + ux * e), y1=py(tail[1] + uy * e),
                        line=dict(color='white', width=w)))
        t = e + gap
    bx, by = tip[0] - ux * head_len, tip[1] - uy * head_len
    p1 = (bx + nx * head_w / 2, by + ny * head_w / 2)
    p2 = (bx - nx * head_w / 2, by - ny * head_w / 2)
    out.append(dict(type='path', xref='paper', yref='paper',
                    path=f'M {px(tip[0])},{py(tip[1])} L {px(p1[0])},{py(p1[1])} L {px(p2[0])},{py(p2[1])} Z',
                    fillcolor='white', line=dict(width=0)))
    return out

shapes += arrow((332, 200), (327, 392), 72, 46)
shapes += arrow((648, 172), (788, 380), 84, 62)
shapes += arrow((952, 876), (720, 773), 84, 62)
shapes += arrow((1257, 795), (1260, 563), 72, 48)

# chrome: button, bottom strip, price marker, F box
shapes.append(dict(type='rect', xref='paper', yref='paper', x0=px(0), x1=px(6), y0=py(55), y1=py(30),
                   fillcolor='#2ecc40', line=dict(width=0)))
shapes.append(dict(type='rect', xref='paper', yref='paper', x0=px(7), x1=px(101), y0=py(55), y1=py(30),
                   fillcolor='#1f8ff5', line=dict(color='#1a6cc0', width=1)))
shapes.append(dict(type='rect', xref='paper', yref='paper', x0=0, x1=1, y0=0, y1=py(1023),
                   fillcolor='#000000', line=dict(width=0)))
shapes.append(dict(type='rect', xref='paper', yref='paper', x0=px(1893), x1=px(1907), y0=py(17), y1=py(3),
                   fillcolor='#262626', line=dict(color='#555555', width=1)))
d = 10 * PT_PER_PX
shapes.append(dict(type='path', xref='paper', yref='y',
                   path=(f'M {px(1846)},{last_price} L {px(1854)},{last_price + d} L {px(1912)},{last_price + d} '
                         f'L {px(1912)},{last_price - d} L {px(1854)},{last_price - d} Z'),
                   fillcolor='#2c2c2c', line=dict(color='#bdbdbd', width=1)))

# ---------------- text ----------------
ann = []
def txt(x, y, s, size, color='white', family='Open Sans', weight='normal', xanchor='center', yanchor='middle'):
    ann.append(dict(x=px(x), y=py(y), xref='paper', yref='paper', text=s, showarrow=False,
                    xanchor=xanchor, yanchor=yanchor,
                    font=dict(family=family, size=size, color=color, weight=weight)))

CAP = 'Open Sans, DejaVu Sans, sans-serif'
txt(442, 88, 'Breakout from low-volatility zone', 42.5, family=CAP, weight=800)
txt(445, 146, '→ signs of exhaustion', 42.5, family=CAP, weight=800)
txt(1478, 82, 'Overbought → <span style="color:#d9a2f0">SELL</span>', 56, family=CAP, weight=800)
txt(335, 876, 'Oversold →  <span style="color:#4fd3dc">BUY</span>', 62, family=CAP, weight=800)
txt(1375, 847, 'Breakdown from low-volatility zone', 42.5, family=CAP, weight=800)
txt(1379, 905, '→ signs of exhaustion', 42.5, family=CAP, weight=800)

SMALL = 'Liberation Sans, Arial, sans-serif'
NARROW = 'Liberation Sans Narrow, Arial Narrow, Liberation Sans, sans-serif'
txt(5, 12, 'Gravity OrbitX by ninZa.co (NQ JUN26 (100 Tick))', 11, color='#c4c4c4', family=SMALL, xanchor='left')
txt(54, 43, 'Gravity OrbitX', 10, color='#dce9ff', family=SMALL)
txt(5, 963, '© 2026 NinjaTrader, LLC', 10, color='#c4c4c4', family=NARROW, xanchor='left')
txt(3, 1013, 'NQ JUN26', 9, color='#c4c4c4', family=NARROW, xanchor='left')
txt(1911, 1012, 'NINJATRADER', 14, color='#e8461e', family=NARROW, weight='bold', xanchor='right')
txt(1829, 21, '→', 20, color='#bdbdbd', family='DejaVu Sans')
txt(1900, 10, 'F', 10, color='#bdbdbd', family=SMALL)
ann.append(dict(x=px(1883), y=last_price, xref='paper', yref='y', text=f'{last_price:.2f}', showarrow=False,
                xanchor='center', yanchor='middle',
                font=dict(family=SMALL, size=11, color='white', weight='bold')))

for i, bx in enumerate(band_label_x):
    for val, name, col in [(band_label_vah[i], 'VAH', '#35a845'), (band_label_vwap[i], 'VWAP', '#e08d20'),
                           (band_label_val[i], 'VAL', '#e0381e')]:
        ann.append(dict(x=bx, y=val, xref='x', yref='y', text=name, showarrow=False, xanchor='left', yanchor='middle',
                        font=dict(family=SMALL, size=11, color=col)))

fig.update_layout(
    width=W, height=H, margin=dict(l=0, r=0, t=0, b=0),
    paper_bgcolor=BG, plot_bgcolor=BG, showlegend=False,
    boxgap=0.15, boxgroupgap=0.15,
    shapes=shapes, annotations=ann,
    xaxis=dict(domain=[0, PLOT_R / W], range=X_RANGE, rangeslider=dict(visible=False),
               showgrid=False, zeroline=False, showline=True, linecolor='#9a9a9a', linewidth=1,
               ticks='outside', ticklen=6, tickcolor='#9a9a9a', tickvals=tick_bars, ticktext=tick_labels,
               tickfont=dict(family=NARROW, size=11, color='#cfcfcf'), ticklabelstandoff=3, fixedrange=True),
    yaxis=dict(domain=[1 - PLOT_B / H, 1], range=Y_RANGE, side='right', anchor='x',
               showgrid=False, zeroline=False, showline=True, linecolor='#9a9a9a', linewidth=1,
               ticks='outside', ticklen=6, tickcolor='#9a9a9a', tickvals=price_ticks, ticktext=price_labels,
               tickfont=dict(family=SMALL, size=11, color='#cfcfcf'), fixedrange=True),
)

fig.write_html('out.html', config={'displayModeBar': False})
